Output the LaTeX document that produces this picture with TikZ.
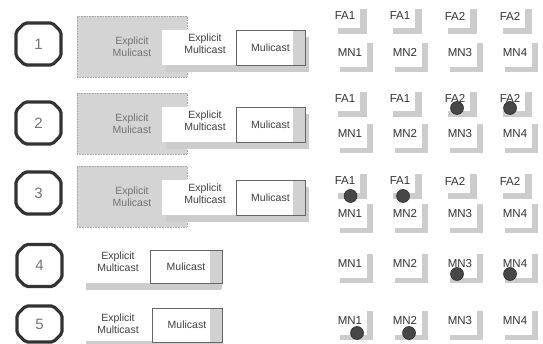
\documentclass[tikz,border=0pt]{standalone}
\usepackage{fontspec}
\setmainfont{Liberation Sans}
\usetikzlibrary{shapes.misc,shadows}
\begin{document}
\begin{tikzpicture}[x=1pt,y=-1pt,
  numbox/.style={chamfered rectangle, chamfered rectangle xsep=4.5pt, chamfered rectangle ysep=4.5pt,
    draw=black!80, line width=3.2pt, minimum width=45pt, minimum height=42pt, inner sep=0pt,
    rounded corners=2pt, text=black!55, font=\fontsize{15}{15}\selectfont},
  graybox/.style={rectangle, fill=black!17, draw=black!35, densely dotted, line width=0.6pt,
    minimum width=110pt, minimum height=61pt, inner sep=0pt, align=center,
    text=black!55, font=\fontsize{10.5}{12}\selectfont},
  whitebox/.style={rectangle, fill=white, inner sep=0pt,
    general shadow={fill=black!20, shadow xshift=4pt, shadow yshift=-7pt}},
  lbl/.style={align=center, inner sep=0pt, text=black!75, font=\fontsize{10.5}{12}\selectfont},
  mulbox/.style={rectangle, fill=white, draw=black!60, line width=0.6pt, inner sep=0pt,
    text=black!75, font=\fontsize{10.5}{12}\selectfont,
    path picture={\fill[black!18] ([xshift=-12pt]path picture bounding box.north east) rectangle (path picture bounding box.south east);}},
  fa/.style={rectangle, fill=white, minimum width=29pt, minimum height=25pt, inner sep=0pt,
    text=black!80, font=\fontsize{11.5}{12}\selectfont,
    general shadow={fill=black!20, shadow xshift=7pt, shadow yshift=-6pt}},
  mn/.style={rectangle, fill=white, minimum width=33pt, minimum height=29pt, inner sep=0pt,
    text=black!80, font=\fontsize{11.5}{12}\selectfont,
    general shadow={fill=black!20, shadow xshift=6pt, shadow yshift=-5pt}},
  dot/.style={circle, fill=black!72, draw=black!88, line width=0.5pt, minimum size=13pt, inner sep=0pt}
]
\useasboundingbox (0,0) rectangle (543,344);

% number boxes
\node[numbox] (n1) at (38.5,44) {1};
\node[numbox] (n2) at (38.5,123) {2};
\node[numbox] (n3) at (38.5,193) {3};
\node[numbox] (n4) at (39.5,265.5) {4};
\node[numbox, minimum height=36pt] (n5) at (39.5,324) {5};

% rows 1-3
\foreach \i/\L in {1/44,2/121,3/194}{
  \node[graybox] (g\i) at (132,\L+2.5) {Explicit\\Mulicast};
  \node[whitebox, minimum width=143pt, minimum height=35pt] (w\i) at (233.5,\L+3.5) {};
  \node[lbl] (e\i) at (205,\L) {Explicit\\Multicast};
  \node[mulbox, minimum width=69pt, minimum height=35pt] (m\i) at (270.5,\L+3.5) {Mulicast};
}

% row 4
\node[whitebox, minimum width=135pt, minimum height=35pt, general shadow={fill=black!20, shadow xshift=5pt, shadow yshift=-6pt}] (w4) at (149.5,265.5) {};
\node[lbl] (e4) at (118,262) {Explicit\\Multicast};
\node[mulbox, minimum width=72pt, minimum height=33pt] (m4) at (186,266.5) {Mulicast};

% row 5
\node[whitebox, minimum width=136pt, minimum height=32pt, general shadow={fill=black!20, shadow xshift=5pt, shadow yshift=-6pt}] (w5) at (150,325) {};
\node[lbl] (e5) at (118,323.5) {Explicit\\Multicast};
\node[mulbox, minimum width=70pt, minimum height=34pt] (m5) at (187,325) {Mulicast};

% grid
\foreach \r/\y/\a/\b in {1/16/1/2, 2/98.5/1/2, 3/181/1/2}{
  \node[fa] (fa\r a) at (345,\y) {FA\a};
  \node[fa] (fa\r b) at (400,\y) {FA\a};
  \node[fa] (fa\r c) at (455,\y) {FA\b};
  \node[fa] (fa\r d) at (510,\y) {FA\b};
}
\foreach \r/\y in {1/52.5, 2/133.5, 3/213.5, 4/263.5, 5/320.5}{
  \node[mn] (mn\r a) at (350,\y) {MN1};
  \node[mn] (mn\r b) at (405,\y) {MN2};
  \node[mn] (mn\r c) at (460,\y) {MN3};
  \node[mn] (mn\r d) at (515,\y) {MN4};
}

% dots
\node[dot] (d2c) at (457,108) {};
\node[dot] (d2d) at (510,108) {};
\node[dot] (d3a) at (350.5,196) {};
\node[dot] (d3b) at (403,196) {};
\node[dot] (d4c) at (457,274) {};
\node[dot] (d4d) at (510,274) {};
\node[dot] (d5a) at (357,333) {};
\node[dot] (d5b) at (409,333) {};
\end{tikzpicture}
\end{document}
